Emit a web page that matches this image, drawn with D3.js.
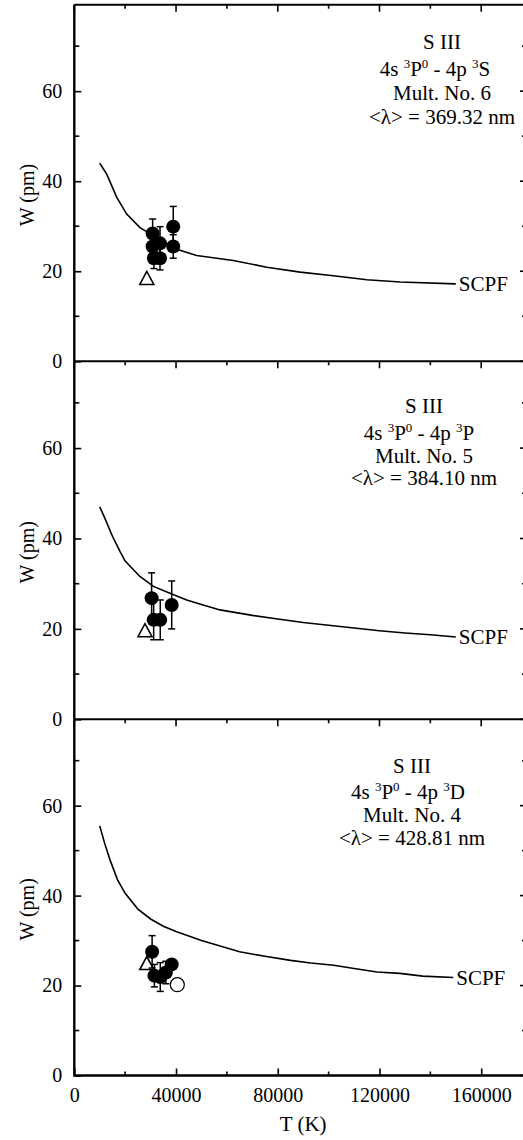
<!DOCTYPE html>
<html>
<head>
<meta charset="utf-8">
<script src="https://cdn.jsdelivr.net/npm/d3@7"></script>
<style>
  html, body { margin: 0; padding: 0; background: #fff; }
  svg { display: block; }
  svg text { font-family: 'Liberation Serif', 'Times New Roman', Times, serif !important; fill: #000; }
</style>
</head>
<body>
<div id="chart"></div>
<script>
// ---------- data ----------
const xTickValues = [0, 40000, 80000, 120000, 160000];
const xMinorTicks = [20000, 60000, 100000, 140000];
const yTickValues = [0, 20, 40, 60];
const yMinorTicks = [10, 30, 50, 70];

// Panel 1: Mult. No. 6
const scpfT6 = [10000, 12700, 16700, 20600, 25800, 31100, 36300, 40300, 48100, 62500, 75700, 88800, 101900, 115000, 128100, 150000];
const scpfW6 = [44.0, 41.6, 36.4, 32.7, 29.7, 27.9, 26.1, 24.9, 23.5, 22.4, 20.9, 19.8, 19.0, 18.1, 17.6, 17.2];
const measT6 = [30800, 30800, 31300, 33700, 33700, 38900, 38900];
const measW6 = [28.4, 25.5, 22.9, 26.2, 22.9, 29.9, 25.5];
const errW6  = [3.2, 2.5, 2.3, 3.7, 2.6, 4.5, 2.6];
const triT6 = [28500];
const triW6 = [18.4];

// Panel 2: Mult. No. 5
const scpfT5 = [10000, 12000, 15000, 18000, 20000, 25800, 31100, 37600, 44200, 50000, 57300, 70000, 80000, 90000, 100000, 110000, 120000, 130000, 140000, 150000];
const scpfW5 = [47.0, 44.5, 40.5, 37.1, 35.0, 31.6, 29.4, 27.9, 26.4, 25.4, 24.2, 23.0, 22.2, 21.4, 20.8, 20.2, 19.6, 19.1, 18.7, 18.2];
const measT5 = [30400, 31200, 33800, 38300];
const measW5 = [26.8, 22.0, 22.0, 25.3];
const errW5  = [5.6, 4.4, 4.4, 5.3];
const triT5 = [27800];
const triW5 = [19.6];

// Panel 3: Mult. No. 4
const scpfT4 = [10000, 12000, 14000, 17000, 20000, 25000, 30000, 35000, 40000, 50000, 56000, 65000, 75000, 85000, 93000, 102000, 110000, 119000, 128000, 137000, 149000];
const scpfW4 = [55.5, 51.5, 48.0, 43.5, 40.5, 37.0, 34.8, 33.2, 32.0, 30.0, 29.0, 27.5, 26.5, 25.6, 25.0, 24.5, 23.8, 23.0, 22.7, 22.1, 21.8];
const measT4 = [30600, 31500, 33800, 36000, 38300];
const measW4 = [27.5, 22.2, 21.9, 22.9, 24.7];
const errW4  = [3.6, 2.5, 3.2, 2.5, 0];
const triT4 = [28500];
const triW4 = [24.9];
const openT4 = [40500];
const openW4 = [20.2];

const titles = [
  { ion: "S III", lower: "3S", mult: "Mult. No. 6", lambda: "369.32" },
  { ion: "S III", lower: "3P", mult: "Mult. No. 5", lambda: "384.10" },
  { ion: "S III", lower: "3D", mult: "Mult. No. 4", lambda: "428.81" }
];

// ---------- layout ----------
const W = 523, H = 1140;
const FONT = "'Liberation Serif', 'Times New Roman', Times, serif";
const left = 74.3, rightFrame = 527;
const panelTops = [4.7, 361.3, 719.3];
const panelBottoms = [361.3, 719.3, 1075.5];
const yMax = 79.2;

const svg = d3.select("#chart").append("svg").attr("width", W).attr("height", H)
  .attr("font-family", FONT);

const x = d3.scaleLinear().domain([0, 178000]).range([left, rightFrame]);

const panels = [
  { T: scpfT6, Wv: scpfW6, mT: measT6, mW: measW6, e: errW6, tT: triT6, tW: triW6, oT: [], oW: [], cx: 442, lines: [49, 76, 100, 124], l2off: -7 },
  { T: scpfT5, Wv: scpfW5, mT: measT5, mW: measW5, e: errW5, tT: triT5, tW: triW5, oT: [], oW: [], cx: 424, lines: [413, 440, 463, 485], l2off: -5 },
  { T: scpfT4, Wv: scpfW4, mT: measT4, mW: measW4, e: errW4, tT: triT4, tW: triW4, oT: openT4, oW: openW4, cx: 412, lines: [773, 799, 822, 845], l2off: -4 }
];

function txt(sel) { return sel.attr("font-family", FONT).style("font-family", FONT); }

panels.forEach((p, i) => {
  const y = d3.scaleLinear().domain([0, yMax]).range([panelBottoms[i], panelTops[i]]);
  const g = svg.append("g");

  // Top frame with inward (downward) ticks
  g.append("line").attr("x1", left).attr("x2", W + 10)
    .attr("y1", panelTops[i]).attr("y2", panelTops[i])
    .attr("stroke", "#000").attr("stroke-width", 2);
  xTickValues.forEach(v => g.append("line").attr("x1", x(v)).attr("x2", x(v))
    .attr("y1", panelTops[i]).attr("y2", panelTops[i] + 7).attr("stroke", "#000").attr("stroke-width", 1.6));
  xMinorTicks.forEach(v => g.append("line").attr("x1", x(v)).attr("x2", x(v))
    .attr("y1", panelTops[i]).attr("y2", panelTops[i] + 4).attr("stroke", "#000").attr("stroke-width", 1.6));

  // Left axis
  const yAxis = d3.axisLeft(y).tickValues(yTickValues).tickSize(-7).tickPadding(12).tickFormat(d3.format("d"));
  const ya = g.append("g").attr("transform", `translate(${left},0)`).call(yAxis);
  ya.attr("font-family", FONT).attr("font-size", 20);
  ya.select(".domain").remove();
  ya.selectAll(".tick line").attr("stroke-width", 1.6);
  txt(ya.selectAll(".tick text")).style("font-size", "20px");
  yMinorTicks.forEach(v => g.append("line").attr("x1", left).attr("x2", left + 5)
    .attr("y1", y(v)).attr("y2", y(v)).attr("stroke", "#000").attr("stroke-width", 1.6));
  g.append("line").attr("x1", left).attr("x2", left)
    .attr("y1", panelTops[i]).attr("y2", panelBottoms[i])
    .attr("stroke", "#000").attr("stroke-width", 2.4);

  // Right axis ticks (inward)
  yTickValues.concat(yMinorTicks).forEach(v => {
    const major = yTickValues.includes(v);
    g.append("line").attr("x1", rightFrame - (major ? 7 : 5)).attr("x2", rightFrame + 5)
      .attr("y1", y(v)).attr("y2", y(v)).attr("stroke", "#000").attr("stroke-width", 1.6);
  });

  // Y label
  const ylc = (panelTops[i] + panelBottoms[i]) / 2 + 12;
  txt(g.append("text").attr("transform", `translate(34,${ylc}) rotate(-90)`)
    .attr("text-anchor", "middle")).style("font-size", "20px").text("W (pm)");

  // SCPF curve
  const pts = p.T.map((t, k) => [t, p.Wv[k]]);
  g.append("path").datum(pts)
    .attr("d", d3.line().x(d => x(d[0])).y(d => y(d[1])))
    .attr("fill", "none").attr("stroke", "#000").attr("stroke-width", 1.6);
  const last = pts[pts.length - 1];
  txt(g.append("text").attr("x", x(last[0]) + 3).attr("y", y(last[1])).attr("dy", "0.35em"))
    .style("font-size", "21px").text("SCPF");

  // Triangles (open)
  p.tT.forEach((t, k) => {
    const cx = x(t), cy = y(p.tW[k]);
    g.append("path").attr("d", `M${cx - 7},${cy + 6} L${cx + 7},${cy + 6} L${cx},${cy - 7} Z`)
      .attr("fill", "#fff").attr("stroke", "#000").attr("stroke-width", 1.6);
  });

  // Error bars
  p.mT.forEach((t, k) => {
    if (!p.e[k]) return;
    const cx = x(t), y1 = y(p.mW[k] + p.e[k]), y2 = y(p.mW[k] - p.e[k]);
    g.append("line").attr("x1", cx).attr("x2", cx).attr("y1", y1).attr("y2", y2).attr("stroke", "#000").attr("stroke-width", 1.5);
    [y1, y2].forEach(yy => g.append("line").attr("x1", cx - 3.5).attr("x2", cx + 3.5).attr("y1", yy).attr("y2", yy)
      .attr("stroke", "#000").attr("stroke-width", 1.5));
  });
  // Filled circles
  p.mT.forEach((t, k) => {
    g.append("circle").attr("cx", x(t)).attr("cy", y(p.mW[k])).attr("r", 7).attr("fill", "#000");
  });
  // Open circles
  p.oT.forEach((t, k) => {
    g.append("circle").attr("cx", x(t)).attr("cy", y(p.oW[k])).attr("r", 7)
      .attr("fill", "#fff").attr("stroke", "#000").attr("stroke-width", 1.2);
  });

  // Annotation
  const ti = titles[i];
  const fs = "21px";
  txt(g.append("text").attr("x", p.cx).attr("y", p.lines[0]).attr("text-anchor", "middle")).style("font-size", fs).text(ti.ion);
  const l2 = txt(g.append("text").attr("x", p.cx + p.l2off).attr("y", p.lines[1]).attr("text-anchor", "middle")).style("font-size", fs);
  l2.append("tspan").text("4s ");
  l2.append("tspan").attr("dy", -8).style("font-size", "13px").text("3");
  l2.append("tspan").attr("dy", 8).text("P");
  l2.append("tspan").attr("dy", -8).style("font-size", "13px").text("0");
  l2.append("tspan").attr("dy", 8).text(" - 4p ");
  l2.append("tspan").attr("dy", -8).style("font-size", "13px").text(ti.lower[0]);
  l2.append("tspan").attr("dy", 8).text(ti.lower[1]);
  txt(g.append("text").attr("x", p.cx).attr("y", p.lines[2]).attr("text-anchor", "middle")).style("font-size", fs).text(ti.mult);
  txt(g.append("text").attr("x", p.cx).attr("y", p.lines[3]).attr("text-anchor", "middle")).style("font-size", fs)
    .text("<λ> = " + ti.lambda + " nm");

  // Bottom axis for last panel
  if (i === 2) {
    const xAxis = d3.axisBottom(x).tickValues(xTickValues).tickSize(-7).tickPadding(12).tickFormat(d3.format("d"));
    const xa = g.append("g").attr("transform", `translate(0,${panelBottoms[i]})`).call(xAxis);
    xa.attr("font-family", FONT).attr("font-size", 20);
    xa.select(".domain").remove();
    xa.selectAll(".tick line").attr("stroke-width", 1.6);
    txt(xa.selectAll(".tick text")).style("font-size", "20px");
    xMinorTicks.forEach(v => g.append("line").attr("x1", x(v)).attr("x2", x(v))
      .attr("y1", panelBottoms[i]).attr("y2", panelBottoms[i] - 4).attr("stroke", "#000").attr("stroke-width", 1.6));
    g.append("line").attr("x1", left - 1).attr("x2", W + 10)
      .attr("y1", panelBottoms[i]).attr("y2", panelBottoms[i]).attr("stroke", "#000").attr("stroke-width", 2.4);
    txt(g.append("text").attr("x", x(90000)).attr("y", 1131).attr("text-anchor", "middle")).style("font-size", "21px").text("T (K)");
  }
});
</script>
</body>
</html>
